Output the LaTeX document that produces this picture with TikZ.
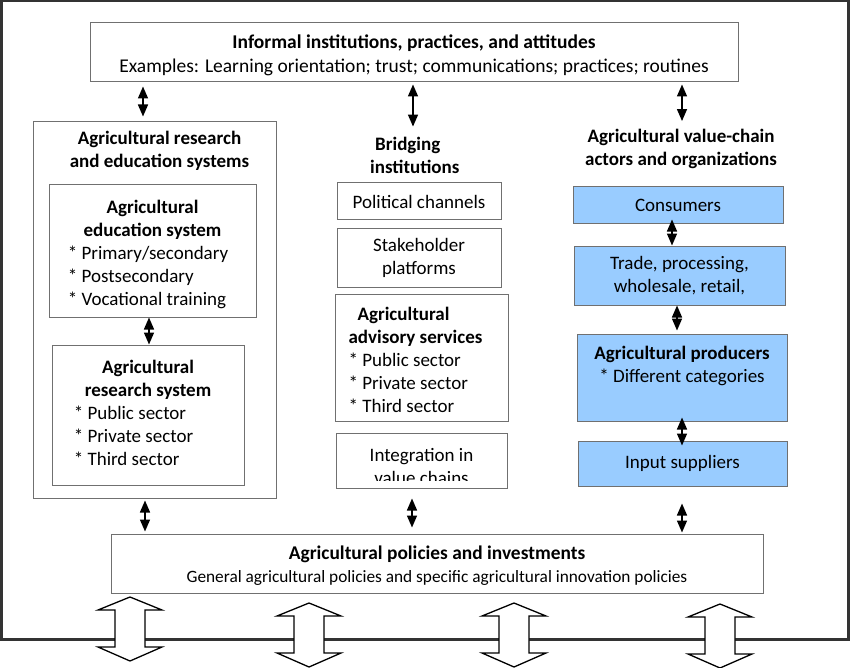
\documentclass[tikz,border=0pt]{standalone}
\usepackage{fontspec}
\setmainfont{Carlito}
\usetikzlibrary{arrows.meta}
\definecolor{boxgray}{HTML}{707070}
\definecolor{framegray}{HTML}{333333}
\definecolor{vcblue}{HTML}{99CCFF}
\newcommand{\boxfont}{\fontsize{19}{23}\selectfont}
\newcommand{\hd}[1]{\multicolumn{1}{@{}c@{}}{\textbf{#1}}}
\newcommand{\bul}[1][0pt]{\hspace*{-#1}*~}

\begin{document}
\begin{tikzpicture}[x=1pt,y=-1pt,
  box/.style={draw=boxgray,line width=1pt,inner sep=0pt,align=center,font=\boxfont},
  bluebox/.style={box,fill=vcblue},
  boxtext/.style={inner sep=0pt,align=center,font=\boxfont},
  title/.style={boxtext,font=\boxfont\bfseries},
  dbl/.style={{Triangle[width=10pt,length=12pt]}-{Triangle[width=10pt,length=12pt]},line width=1.5pt},
  bigarrow/.style={draw,line width=1.3pt,fill=white,line join=miter}]
  \useasboundingbox (0,0) rectangle (850,668);
  \draw[framegray,line width=2.5pt] (1.25,1.25) rectangle (848.5,639.5);

  \node[box,minimum width=648pt,minimum height=59pt] (informal) at (414,52.5) {};
  \node[boxtext,font=\fontsize{19.5}{24}\selectfont] (informaltext) at (414,55)
    {\textbf{Informal institutions, practices, and attitudes}\\Examples: Learning orientation; trust; communications; practices; routines};

  \node[box,minimum width=243pt,minimum height=376pt] (aressys) at (154.5,310) {};
  \node[title] (arestitle) at (159.5,150.5) {Agricultural research\\and education systems};
  \node[box,minimum width=207pt,minimum height=132pt] (edusys) at (152.5,251) {};
  \node[boxtext] (edutext) at (152.5,254.5)
    {\begin{tabular}{@{}l@{}}\hd{Agricultural}\\\hd{education system}\\\bul[9pt]Primary/secondary\\\bul[9pt]Postsecondary\\\bul[9pt]Vocational training\end{tabular}};
  \node[box,minimum width=192pt,minimum height=140pt] (ressys) at (148,415)
    {\begin{tabular}{@{}l@{}}\hd{Agricultural}\\\hd{research system}\\\bul[11pt]Public sector\\\bul[11pt]Private sector\\\bul[11pt]Third sector\end{tabular}};

  \node[title,align=left,anchor=west] (bridgetitle) at (370,155) {\hspace*{5pt}Bridging\\institutions};
  \node[box,minimum width=164pt,minimum height=37pt] (polchan) at (419,201.5) {Political channels};
  \node[box,minimum width=164pt,minimum height=59pt] (stakeplat) at (419,257.5) {Stakeholder\\platforms};
  \node[box,minimum width=173pt,minimum height=127pt] (advisory) at (421.5,357.5) {};
  \node[boxtext] (advtext) at (421.5,362)
    {\begin{tabular}{@{}l@{\hspace{12pt}}}\hspace*{9pt}\textbf{Agricultural}\\\textbf{advisory services}\\\bul Public sector\\\bul Private sector\\\bul Third sector\end{tabular}};
  \node[box,minimum width=171pt,minimum height=55pt] (integ) at (421.5,460.5) {};
  \begin{scope}
    \clip (integ.north west) rectangle ([yshift=8pt]integ.south east);
    \node[boxtext] (integtext) at (421.5,466.5) {Integration in\\value chains};
  \end{scope}

  \node[title] (vctitle) at (681,149) {Agricultural value-chain\\actors and organizations};
  \node[bluebox,minimum width=210pt,minimum height=36pt] (consumers) at (678,205) {Consumers};
  \node[bluebox,minimum width=211pt,minimum height=59pt] (trade) at (679.5,275.5) {Trade, processing,\\wholesale, retail,};
  \node[bluebox,minimum width=210pt,minimum height=87pt] (producers) at (682,377.5) {};
  \node[boxtext] (prodtext) at (682,366) {\textbf{Agricultural producers}\\\bul Different categories};
  \node[bluebox,minimum width=209pt,minimum height=45pt] (inputs) at (682.5,463.5) {Input suppliers};

  \node[box,minimum width=652pt,minimum height=59pt] (policies) at (437,563.5) {};
  \node[boxtext] (poltext) at (437,566)
    {\fontsize{19.4}{23}\selectfont\textbf{Agricultural policies and investments}\\{\fontsize{17.3}{23}\selectfont General agricultural policies and specific agricultural innovation policies}};

  \draw[dbl,shorten <=4pt,shorten >=5pt] (informal.south -| 143,0) -- (aressys.north -| 143,0);
  \draw[dbl,shorten <=2pt,shorten >=10pt] (informal.south -| 413,0) -- (bridgetitle.north -| 413,0);
  \draw[dbl,shorten <=2pt,shorten >=8pt] (informal.south -| 682,0) -- (vctitle.north -| 682,0);
  \draw[dbl] (edusys.south -| 149,0) -- (ressys.north -| 149,0);
  \draw[dbl,shorten <=-4pt] (consumers.south -| 672,0) -- (trade.north -| 672,0);
  \draw[dbl,shorten >=3pt] (trade.south -| 677,0) -- (producers.north -| 677,0);
  \draw[dbl,shorten <=-4pt,shorten >=-5pt] (producers.south -| 682,0) -- (inputs.north -| 682,0);
  \draw[dbl,shorten <=2pt,shorten >=2pt] (aressys.south -| 145,0) -- (policies.north -| 145,0);
  \draw[dbl,shorten <=10pt,shorten >=6pt] (integ.south -| 412,0) -- (policies.north -| 412,0);
  \draw[dbl,shorten <=17pt,shorten >=1pt] (inputs.south -| 682,0) -- (policies.north -| 682,0);

  \foreach \cx/\ty in {130/597,309/603,514/603,720/604}
    \draw[bigarrow] (\cx,\ty) -- ++(32,13) -- ++(-17,0) -- ++(0,37) -- ++(17,0) -- ++(-32,14)
      -- ++(-32,-14) -- ++(17,0) -- ++(0,-37) -- ++(-17,0) -- cycle;
\end{tikzpicture}
\end{document}
